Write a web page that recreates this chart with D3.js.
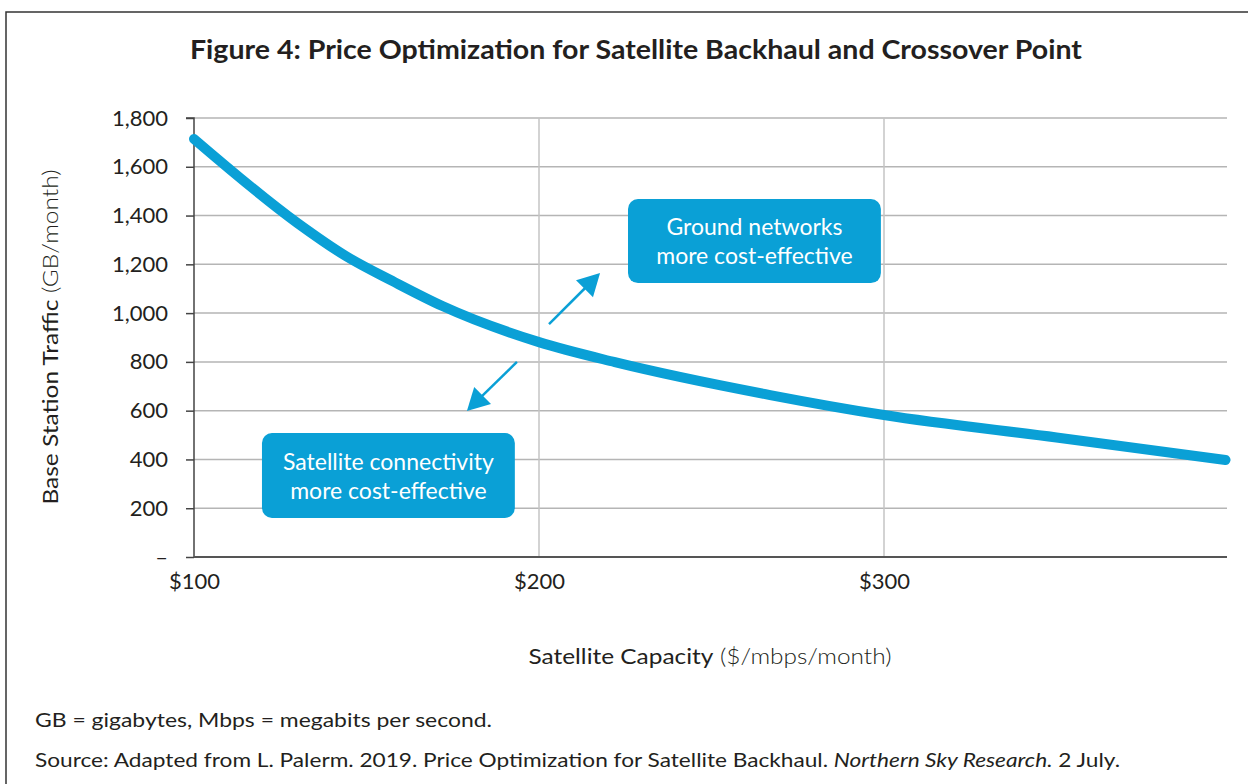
<!DOCTYPE html>
<html>
<head>
<meta charset="utf-8">
<script src="https://cdn.jsdelivr.net/npm/d3@7"></script>
<style>
  html, body { margin: 0; padding: 0; background: #fff; }
  svg { display: block; }
  text { font-family: Lato, "Open Sans", sans-serif; fill: #231f20; }
</style>
</head>
<body>
<svg id="chart" width="1248" height="784"></svg>
<script>
// ---- Data ----
const priceUSD   = [100, 130, 144, 158, 172, 200, 222, 267, 300, 350, 399];
const trafficGB  = [1714, 1369, 1234, 1128, 1029, 881, 799, 664, 582, 490, 398];
const yTicks     = [0, 200, 400, 600, 800, 1000, 1200, 1400, 1600, 1800];
const xTicks     = [100, 200, 300];
const xTickLabels = ["$100", "$200", "$300"];
const titleText  = "Figure 4: Price Optimization for Satellite Backhaul and Crossover Point";
const xTitleMain = "Satellite Capacity";
const xTitleRest = " ($/mbps/month)";
const yTitleMain = "Base Station Traffic";
const yTitleRest = " (GB/month)";
const noteLine   = "GB = gigabytes, Mbps = megabits per second.";
const srcPre     = "Source: Adapted from L. Palerm. 2019. Price Optimization for Satellite Backhaul. ";
const srcItalic  = "Northern Sky Research.";
const srcPost    = " 2 July.";
const boxGround  = ["Ground networks", "more cost-effective"];
const boxSat     = ["Satellite connectivity", "more cost-effective"];

const BLUE = "#0aa0d6";
const svg = d3.select("#chart");

// frame
svg.append("path").attr("d", "M6,784 V12 H1248")
  .attr("fill", "none").attr("stroke", "#333").attr("stroke-width", 1.5);

// title
svg.append("text").attr("x", 636).attr("y", 59).attr("text-anchor", "middle")
  .style("font-size", "26px").style("font-weight", "bold")
  .attr("textLength", 892).attr("lengthAdjust", "spacingAndGlyphs")
  .text(titleText);

const x = d3.scaleLinear().domain([100, 400]).range([194, 1229]);
const y = d3.scaleLinear().domain([0, 1800]).range([557, 118]);

// gridlines
const g = svg.append("g");
g.selectAll("line.hg").data(yTicks.filter(d => d > 0)).join("line")
  .attr("x1", x(100)).attr("x2", x(400) - 2)
  .attr("y1", d => y(d)).attr("y2", d => y(d))
  .attr("stroke", "#b5b5b5").attr("stroke-width", 1.5);
g.selectAll("line.vg").data(xTicks.filter(d => d > 100)).join("line")
  .attr("x1", d => x(d)).attr("x2", d => x(d))
  .attr("y1", y(1800)).attr("y2", y(0))
  .attr("stroke", "#c4c4c4").attr("stroke-width", 1.5);

// y axis
const yAxis = d3.axisLeft(y).tickValues(yTicks).tickSize(8).tickPadding(18)
  .tickFormat(d => d === 0 ? "–" : d3.format(",")(d));
const ya = svg.append("g").attr("transform", `translate(${x(100)},0)`).call(yAxis);
ya.select(".domain").attr("stroke", "#444").attr("stroke-width", 1.5).attr("d", `M-8,${y(1800)}H0V${y(0)}`);
ya.selectAll(".tick line").attr("stroke", "#444").attr("stroke-width", 1.5);
ya.selectAll(".tick text").style("font-size", "22px").style("font-family", "Lato, sans-serif")
  .style("font-weight", "400").attr("fill", "#2b2b2b");

// x axis
const xAxis = d3.axisBottom(x).tickValues(xTicks).tickSize(0).tickPadding(16)
  .tickFormat((d, i) => xTickLabels[i]);
const xa = svg.append("g").attr("transform", `translate(0,${y(0)})`).call(xAxis);
xa.select(".domain").attr("stroke", "#555").attr("stroke-width", 2).attr("d", `M${x(100)},0H${x(400) - 2}`);
xa.selectAll(".tick text").style("font-size", "22px").style("font-family", "Lato, sans-serif")
  .style("font-weight", "400").attr("fill", "#2b2b2b");

// axis titles
const xt = svg.append("text").attr("x", 710).attr("y", 664).attr("text-anchor", "middle").style("font-size", "21px")
  .attr("textLength", 363).attr("lengthAdjust", "spacingAndGlyphs");
xt.append("tspan").text(xTitleMain);
xt.append("tspan").style("font-weight", "300").text(xTitleRest);

const yt = svg.append("text").attr("transform", "translate(58,337) rotate(-90)").attr("text-anchor", "middle")
  .style("font-size", "21px").attr("textLength", 335).attr("lengthAdjust", "spacingAndGlyphs");
yt.append("tspan").text(yTitleMain);
yt.append("tspan").style("font-weight", "300").text(yTitleRest);

// curve
const pts = priceUSD.map((p, i) => [p, trafficGB[i]]);
svg.append("path").datum(pts)
  .attr("d", d3.line().x(d => x(d[0])).y(d => y(d[1])).curve(d3.curveMonotoneX))
  .attr("fill", "none").attr("stroke", BLUE).attr("stroke-width", 10)
  .attr("stroke-linecap", "round").attr("stroke-linejoin", "round");

// arrows
function arrow(x1, y1, x2, y2) {
  const dx = x2 - x1, dy = y2 - y1, L = Math.hypot(dx, dy);
  const ux = dx / L, uy = dy / L, hl = 22, hw = 12;
  const bx = x2 - ux * hl, by = y2 - uy * hl;
  svg.append("line").attr("x1", x1).attr("y1", y1).attr("x2", bx + ux * 2).attr("y2", by + uy * 2)
    .attr("stroke", BLUE).attr("stroke-width", 2.5);
  svg.append("path")
    .attr("d", `M${x2},${y2}L${bx - uy * hw},${by + ux * hw}L${bx + uy * hw},${by - ux * hw}Z`)
    .attr("fill", BLUE);
}
arrow(x(202.9), y(955), x(217.7), y(1164));
arrow(x(193.6), y(800), x(179.1), y(599));

// boxes
function box(x0, x1, yTop, yBot, lines) {
  const bx = x(x0), bw = x(x1) - x(x0), by = y(yTop), bh = y(yBot) - y(yTop);
  svg.append("rect").attr("x", bx).attr("y", by).attr("width", bw).attr("height", bh)
    .attr("rx", 10).attr("fill", BLUE);
  lines.forEach((t, i) => {
    svg.append("text").attr("x", bx + bw / 2).attr("y", by + bh / 2 - 6 + i * 29)
      .attr("text-anchor", "middle").style("font-size", "23px").style("fill", "#fff").text(t);
  });
}
box(225.8, 299.1, 1468, 1123, boxGround);
box(119.7, 193.0, 508, 160, boxSat);

// footnotes
svg.append("text").attr("x", 35).attr("y", 727).style("font-size", "19px").style("font-weight", "400")
  .attr("textLength", 457).attr("lengthAdjust", "spacingAndGlyphs").text(noteLine);
const src = svg.append("text").attr("x", 35).attr("y", 767).style("font-size", "19px").style("font-weight", "400")
  .attr("textLength", 1085).attr("lengthAdjust", "spacingAndGlyphs");
src.append("tspan").text(srcPre);
src.append("tspan").style("font-style", "italic").text(srcItalic);
src.append("tspan").text(srcPost);
</script>
</body>
</html>
